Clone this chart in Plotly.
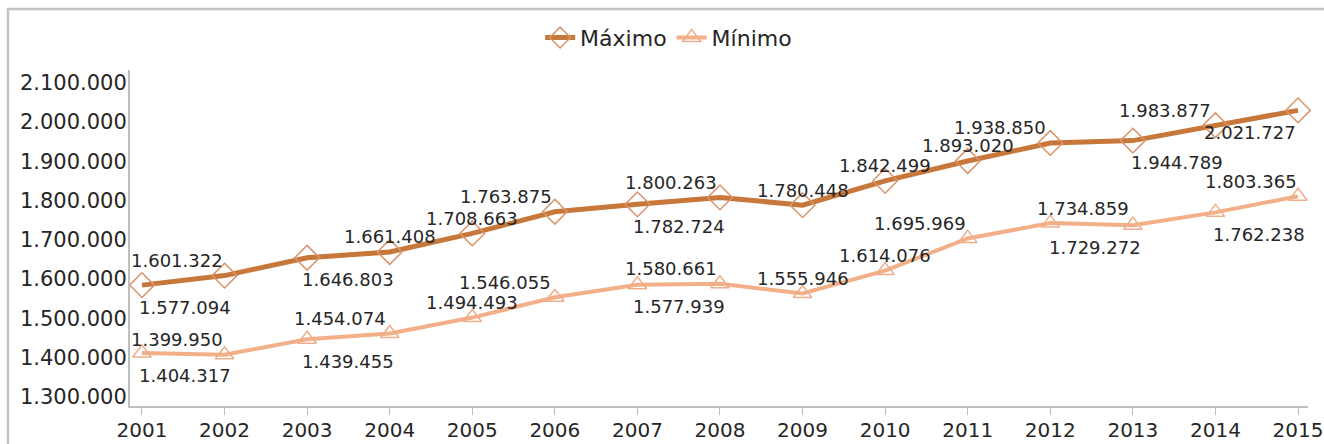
import plotly.graph_objects as go

years = [2001, 2002, 2003, 2004, 2005, 2006, 2007, 2008, 2009, 2010, 2011, 2012, 2013, 2014, 2015]
maximo = [1577094, 1601322, 1646803, 1661408, 1708663, 1763875, 1782724, 1800263, 1780448,
          1842499, 1893020, 1938850, 1944789, 1983877, 2021727]
minimo = [1404317, 1399950, 1439455, 1454074, 1494493, 1546055, 1577939, 1580661, 1555946,
          1614076, 1695969, 1734859, 1729272, 1762238, 1803365]
y_ticks = [1300000, 1400000, 1500000, 1600000, 1700000, 1800000, 1900000, 2000000, 2100000]

# data-label placement (style only): horizontal pixel shift of label centre, and side
dx_max = [43, -48, 41, 0, 0, -49, 42, -49, 0, 0, 0, -50, 44, -50, -48]
side_max = ["below", "above", "below", "above", "above", "above", "below", "above",
            "above", "above", "above", "above", "below", "above", "below"]
dx_min = [43, -48, 41, -50, 0, -50, 42, -49, 0, 0, -48, 33, -38, 44, -47]
side_min = ["below", "above", "below", "above", "above", "above", "below", "above",
            "above", "above", "above", "above", "below", "below", "above"]

FONT = "DejaVu Sans"
TXT = "#262626"
fig = go.Figure()
fig.add_trace(go.Scatter(
    x=years, y=maximo, name="Máximo", mode="lines+markers", cliponaxis=False,
    line=dict(color="#C8773A", width=5),
    marker=dict(symbol="diamond-open", size=19, color="#D9946A", line=dict(width=1.5)),
))
fig.add_trace(go.Scatter(
    x=years, y=minimo, name="Mínimo", mode="lines+markers", cliponaxis=False,
    line=dict(color="#F2AF88", width=4),
    marker=dict(symbol="triangle-up-open", size=16, color="#EFAE8A", line=dict(width=1.5)),
))


def fmt(v):
    return f"{v:,d}".replace(",", ".")


annotations = []
for vals, dxs, sides in ((maximo, dx_max, side_max), (minimo, dx_min, side_min)):
    for yr, v, dx, sd in zip(years, vals, dxs, sides):
        annotations.append(dict(
            x=yr, y=v, xref="x", yref="y", text=fmt(v), showarrow=False,
            xanchor="center", yanchor="middle", xshift=dx,
            yshift=15 if sd == "above" else -22,
            font=dict(family=FONT, size=18, color=TXT),
        ))

fig.update_layout(
    width=1324, height=444,
    margin=dict(l=130, r=16, t=70, b=38),
    paper_bgcolor="white", plot_bgcolor="white",
    separators=",.",
    font=dict(family=FONT, size=19, color=TXT),
    showlegend=True,
    legend=dict(orientation="h", xref="container", yref="container", x=0.505, y=0.915,
                xanchor="center", yanchor="middle", font=dict(size=22, family=FONT),
                traceorder="normal", bgcolor="rgba(0,0,0,0)"),
    annotations=annotations,
    shapes=[dict(type="rect", xref="paper", yref="paper", x0=-0.1036, x1=1.05,
                 y0=-0.3, y1=1.1815, line=dict(color="#C4C4C4", width=2.5), layer="below")],
)
fig.update_xaxes(range=[2000.855, 2015.121], tickvals=years, showgrid=False, zeroline=False,
                 showline=True, linecolor="#BFBFBF", linewidth=2, ticks="outside",
                 ticklen=7, tickcolor="#BFBFBF", tickfont=dict(size=20), automargin=False,
                 ticklabeloverflow="allow", ticklabelstandoff=-2)
fig.update_yaxes(range=[1269500, 2124500], tickvals=y_ticks, tickformat=",d", showgrid=False,
                 zeroline=False, showline=True, linecolor="#BFBFBF", linewidth=2,
                 ticks="", tickfont=dict(size=21), automargin=False,
                 ticklabelstandoff=-3, ticklabelshift=3)

fig.write_html("out.html", config={"displayModeBar": False},
               post_script="document.body.style.margin='0';document.body.style.overflow='hidden';")
